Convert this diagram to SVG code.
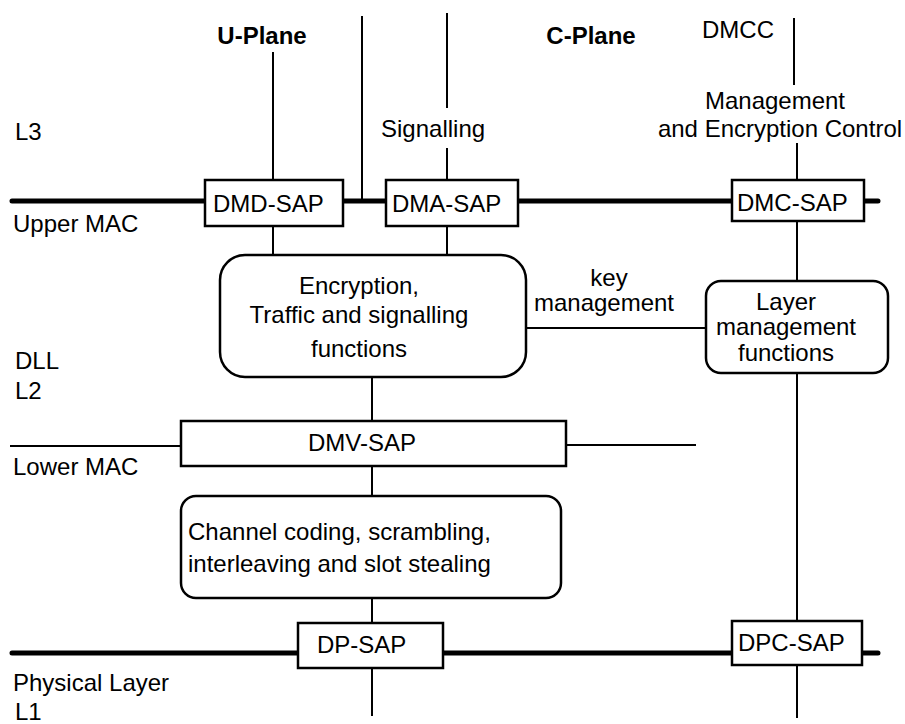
<svg xmlns="http://www.w3.org/2000/svg" width="905" height="724" viewBox="0 0 905 724">
<style>
text{font-family:"Liberation Sans",Arial,sans-serif;font-size:24px;fill:#000}
.b{font-weight:bold}
.m{text-anchor:middle}
.thick{stroke:#000;stroke-width:5;stroke-linecap:round;fill:none}
.thin{stroke:#000;stroke-width:2;fill:none}
.box{fill:#fff;stroke:#000;stroke-width:2.5}
</style>
<rect width="905" height="724" fill="#fff"/>
<g id="labels">
<text x="15" y="140">L3</text>
<text x="13" y="232">Upper MAC</text>
<text x="15" y="369">DLL</text>
<text x="15" y="399">L2</text>
<text x="13" y="475">Lower MAC</text>
<text x="13" y="691">Physical Layer</text>
<text x="15" y="720">L1</text>
<text class="b m" x="262" y="44">U-Plane</text>
<text class="b m" x="591" y="44">C-Plane</text>
<text x="702" y="38">DMCC</text>
<text x="381" y="137">Signalling</text>
<text class="m" x="775" y="109">Management</text>
<text class="m" x="780" y="137">and Encryption Control</text>
<text class="m" x="609" y="286">key</text>
<text class="m" x="604" y="311">management</text>
</g>
<g id="connectors">
<path class="thick" d="M12,201H878M12,653H878"/>
<path class="thin" d="M273,52V180M273,226V255M362,16V201M447,13V108M447,148V180M447,226V255M794,18V85M797,143V180M797,221V281M797,373V621M797,665V718M372,377V421M372,466V496M372,598V623M372,668V716M10,446H181M566,445H696M526,328H706"/>
</g>
<g id="dmd-sap"><rect class="box" x="205" y="180" width="138" height="46"/><text x="213" y="212">DMD-SAP</text></g>
<g id="dma-sap"><rect class="box" x="386" y="180" width="132" height="46"/><text x="392" y="212">DMA-SAP</text></g>
<g id="dmc-sap"><rect class="box" x="732" y="180" width="132" height="41"/><text x="737" y="211">DMC-SAP</text></g>
<g id="encryption"><rect class="box" x="220" y="255" width="306" height="122" rx="25"/><text class="m" x="359" y="294">Encryption,</text><text class="m" x="359" y="323">Traffic and signalling</text><text class="m" x="359" y="357">functions</text></g>
<g id="layer-mgmt"><rect class="box" x="706" y="281" width="182" height="92" rx="15"/><text class="m" x="786" y="310">Layer</text><text class="m" x="786" y="335">management</text><text class="m" x="786" y="361">functions</text></g>
<g id="dmv-sap"><rect class="box" x="181" y="421" width="385" height="45"/><text class="m" x="362" y="451">DMV-SAP</text></g>
<g id="channel"><rect class="box" x="181" y="496" width="380" height="102" rx="15"/><text x="188" y="540">Channel coding, scrambling,</text><text x="188" y="572">interleaving and slot stealing</text></g>
<g id="dp-sap"><rect class="box" x="298" y="623" width="145" height="45"/><text x="317" y="653">DP-SAP</text></g>
<g id="dpc-sap"><rect class="box" x="732" y="621" width="130" height="44"/><text x="738" y="651">DPC-SAP</text></g>
</svg>
